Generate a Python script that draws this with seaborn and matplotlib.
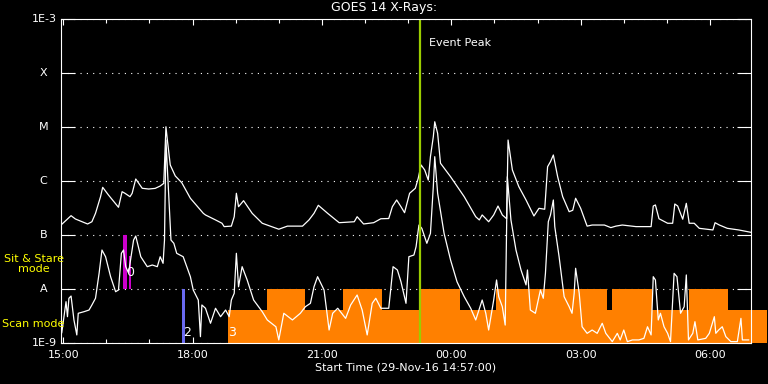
import matplotlib
matplotlib.use("Agg")
import matplotlib.pyplot as plt
import matplotlib.dates as mdates
import matplotlib.ticker as mticker
import pandas as pd
import seaborn as sns

# ---------------- data ----------------
title = "GOES 14 X-Rays:"
xlabel = "Start Time (29-Nov-16 14:57:00)"
x_start = "14:57"
x_end = "06:57"

long_times = ["14:57", "15:11", "15:17", "15:34", "15:40", "15:45", "15:52", "15:55", "16:03", "16:17",
              "16:22", "16:26", "16:33", "16:36", "16:41", "16:50", "16:59", "17:08", "17:15", "17:20",
              "17:23", "17:25", "17:29", "17:36", "17:45", "17:57", "18:15", "18:18", "18:32", "18:41",
              "18:44", "18:54", "18:58", "19:01", "19:04", "19:11", "19:23", "19:37", "20:00", "20:12",
              "20:33", "20:42", "20:49", "20:55", "21:08", "21:24", "21:45", "21:49", "21:58", "22:12",
              "22:22", "22:33", "22:38", "22:44", "22:50", "22:55", "23:02", "23:10", "23:14", "23:18",
              "23:23", "23:28", "23:31", "23:35", "23:37", "23:41", "23:45", "23:59", "00:18", "00:34",
              "00:39", "00:43", "00:52", "00:59", "01:05", "01:11", "01:17", "01:19", "01:25", "01:34",
              "01:44", "01:55", "02:02", "02:10", "02:14", "02:18", "02:22", "02:28", "02:35", "02:44",
              "02:49", "02:53", "03:00", "03:09", "03:16", "03:33", "03:42", "03:49", "03:58", "04:17",
              "04:38", "04:41", "04:44", "04:49", "05:01", "05:08", "05:11", "05:15", "05:22", "05:27",
              "05:31", "05:38", "05:45", "06:04", "06:07", "06:13", "06:24", "06:40", "06:57"]
long_flux = [1.53e-7, 2.28e-7, 1.98e-7, 1.60e-7, 1.76e-7, 2.52e-7, 5.12e-7, 7.64e-7, 5.51e-7, 3.26e-7,
             6.34e-7, 5.92e-7, 5.12e-7, 5.92e-7, 1.09e-6, 7.33e-7, 7.10e-7, 7.30e-7, 8.07e-7, 9.06e-7,
             1.01e-5, 5.74e-6, 1.98e-6, 1.24e-6, 9.31e-7, 4.79e-7, 2.52e-7, 2.35e-7, 1.90e-7, 1.65e-7,
             1.43e-7, 1.46e-7, 2.18e-7, 5.92e-7, 3.34e-7, 4.32e-7, 2.52e-7, 1.65e-7, 1.28e-7, 1.46e-7,
             1.46e-7, 1.90e-7, 2.52e-7, 3.55e-7, 2.52e-7, 1.69e-7, 1.76e-7, 2.18e-7, 1.60e-7, 1.69e-7,
             2.00e-7, 2.02e-7, 3.34e-7, 4.45e-7, 3.34e-7, 2.59e-7, 5.92e-7, 7.33e-7, 1.12e-6, 1.98e-6,
             1.60e-6, 1.04e-6, 2.82e-6, 6.61e-6, 1.25e-5, 7.64e-6, 2.13e-6, 1.20e-6, 5.12e-7, 2.18e-7,
             1.90e-7, 2.35e-7, 1.76e-7, 2.35e-7, 3.44e-7, 2.35e-7, 2.00e-7, 5.74e-6, 1.60e-6, 7.84e-7,
             4.45e-7, 2.25e-7, 3.12e-7, 3.00e-7, 1.84e-6, 2.28e-6, 3.03e-6, 1.20e-6, 5.12e-7, 2.70e-7,
             2.87e-7, 4.79e-7, 3.12e-7, 1.46e-7, 1.53e-7, 1.53e-7, 1.37e-7, 1.46e-7, 1.53e-7, 1.43e-7,
             1.43e-7, 3.44e-7, 3.60e-7, 2.00e-7, 1.65e-7, 1.65e-7, 3.75e-7, 3.44e-7, 1.96e-7, 3.86e-7,
             1.65e-7, 1.65e-7, 1.33e-7, 1.24e-7, 1.69e-7, 1.53e-7, 1.33e-7, 1.24e-7, 1.12e-7]

short_times = ["14:58", "15:04", "15:06", "15:08", "15:11", "15:15", "15:19", "15:21", "15:29", "15:36",
               "15:40", "15:45", "15:50", "15:54", "15:59", "16:06", "16:13", "16:17", "16:21", "16:24",
               "16:27", "16:31", "16:38", "16:41", "16:48", "16:57", "17:04", "17:11", "17:15", "17:19",
               "17:21", "17:23", "17:25", "17:30", "17:34", "17:38", "17:47", "17:57", "18:01", "18:08",
               "18:11", "18:13", "18:18", "18:25", "18:32", "18:39", "18:46", "18:51", "18:54", "18:58",
               "19:01", "19:04", "19:09", "19:16", "19:25", "19:37", "19:44", "19:56", "20:00", "20:07",
               "20:19", "20:30", "20:37", "20:44", "20:49", "20:54", "21:03", "21:10", "21:15", "21:22",
               "21:33", "21:40", "21:49", "21:56", "22:03", "22:10", "22:15", "22:22", "22:33", "22:39",
               "22:45", "22:50", "22:57", "23:01", "23:08", "23:11", "23:15", "23:19", "23:26", "23:31",
               "23:35", "23:37", "23:41", "23:50", "23:59", "00:08", "00:18", "00:27", "00:34", "00:43",
               "00:48", "00:52", "00:59", "01:03", "01:06", "01:11", "01:15", "01:18", "01:23", "01:30",
               "01:37", "01:44", "01:46", "01:50", "01:57", "02:04", "02:08", "02:11", "02:15", "02:18",
               "02:22", "02:24", "02:30", "02:37", "02:44", "02:48", "02:51", "02:53", "02:58", "03:02",
               "03:09", "03:16", "03:23", "03:30", "03:35", "03:42", "03:44", "03:51", "03:55", "04:00",
               "04:05", "04:12", "04:21", "04:28", "04:33", "04:38", "04:41", "04:44", "04:48", "04:51",
               "04:56", "05:01", "05:05", "05:10", "05:14", "05:19", "05:24", "05:27", "05:30", "05:36",
               "05:39", "05:43", "05:54", "05:59", "06:06", "06:08", "06:12", "06:17", "06:22", "06:29",
               "06:38", "06:43", "06:45", "06:54"]
short_flux = [1.53e-9, 5.82e-9, 3.07e-9, 6.73e-9, 7.41e-9, 2.67e-9, 1.41e-9, 3.55e-9, 3.80e-9, 4.08e-9,
              5.06e-9, 6.73e-9, 1.95e-8, 5.27e-8, 3.96e-8, 1.69e-8, 8.91e-9, 9.60e-9, 4.58e-8, 5.27e-8,
              2.59e-8, 1.98e-8, 8.07e-8, 9.58e-8, 3.96e-8, 2.59e-8, 2.78e-8, 2.59e-8, 3.96e-8, 2.99e-8,
              8.07e-8, 5.74e-6, 1.74e-6, 8.07e-8, 7.02e-8, 4.58e-8, 3.96e-8, 1.69e-8, 9.58e-9, 6.25e-9,
              1.31e-9, 5.06e-9, 4.40e-9, 2.32e-9, 4.40e-9, 3.07e-9, 4.08e-9, 3.07e-9, 6.25e-9, 8.32e-9,
              4.58e-8, 1.10e-8, 2.59e-8, 1.47e-8, 6.25e-9, 3.80e-9, 2.67e-9, 2.00e-9, 1.14e-9, 3.55e-9,
              2.67e-9, 3.55e-9, 4.70e-9, 5.43e-9, 1.10e-8, 1.69e-8, 9.58e-9, 1.74e-9, 3.55e-9, 4.40e-9,
              2.86e-9, 5.06e-9, 7.74e-9, 4.08e-9, 1.41e-9, 5.43e-9, 6.73e-9, 4.40e-9, 4.40e-9, 2.59e-8,
              2.25e-8, 1.36e-8, 5.43e-9, 3.96e-8, 4.26e-8, 6.07e-8, 1.53e-7, 1.33e-7, 7.02e-8, 1.07e-7,
              7.84e-7, 2.82e-6, 5.92e-7, 1.07e-7, 3.44e-8, 1.36e-8, 7.20e-9, 4.40e-9, 2.67e-9, 6.25e-9,
              3.55e-9, 1.74e-9, 6.25e-9, 1.47e-8, 7.20e-9, 4.70e-9, 2.15e-9, 1.20e-6, 1.90e-7, 5.27e-8,
              2.25e-8, 1.19e-8, 2.25e-8, 4.08e-9, 3.55e-9, 9.58e-9, 6.73e-9, 1.95e-8, 1.76e-7, 2.35e-7,
              4.45e-7, 1.43e-7, 3.96e-8, 7.20e-9, 4.70e-9, 3.55e-9, 8.32e-9, 2.42e-8, 8.32e-9, 2.00e-9,
              1.51e-9, 1.74e-9, 1.51e-9, 2.32e-9, 1.51e-9, 1.14e-9, 1.06e-9, 1.51e-9, 1.14e-9, 1.74e-9,
              1.06e-9, 1.14e-9, 1.14e-9, 1.22e-9, 2.00e-9, 1.41e-9, 1.69e-8, 1.47e-8, 2.67e-9, 3.55e-9,
              2.00e-9, 1.51e-9, 1.06e-9, 1.95e-8, 1.69e-8, 3.55e-9, 4.70e-9, 1.82e-8, 1.14e-9, 1.51e-9,
              2.48e-9, 1.14e-9, 1.22e-9, 1.51e-9, 3.07e-9, 1.51e-9, 1.74e-9, 2.00e-9, 1.31e-9, 1.06e-9,
              1.06e-9, 2.86e-9, 1.14e-9, 1.14e-9]

# Scan mode (orange): low band and taller blocks
scan_low_start = "18:49"
scan_low_end = "07:19"
scan_low_top = 4.1e-9
scan_high_starts = ["19:43", "21:30", "23:16", "01:02", "03:43", "05:31"]
scan_high_ends = ["20:37", "22:24", "00:12", "03:36", "04:39", "06:25"]
scan_high_top = 1.0e-8
scan_bottom = 1.0e-9

# Sit & stare (magenta)
sit_starts = ["16:23", "16:31"]
sit_ends = ["16:29", "16:35"]
sit_tops = [1.0e-7, 4.1e-8]
sit_bottom = 1.0e-8

# other observation (blue)
obs2_start = "17:45"
obs2_end = "17:50"
obs2_bottom = 1.0e-9
obs2_top = 1.0e-8

event_peak = "23:16"

ytick_vals = [1e-9, 1e-8, 1e-7, 1e-6, 1e-5, 1e-4, 1e-3]
ytick_labels = ["1E-9", "A", "B", "C", "M", "X", "1E-3"]

# colours
ORANGE = "#FF8000"
MAGENTA = "#CC00CC"
BLUE = "#6A6AF0"
GREEN = "#9ACD00"
YELLOW = "#FFFF00"


def to_dt(s):
    h, m = map(int, s.split(":"))
    day = 29 if h >= 14 else 30
    return pd.Timestamp(2016, 11, day, h, m)


def num(s):
    return mdates.date2num(to_dt(s))


# ---------------- style ----------------
sns.set_theme(style="dark")
plt.rcParams.update({
    "font.family": ["DejaVu Sans"],
    "figure.facecolor": "black",
    "axes.facecolor": "black",
    "savefig.facecolor": "black",
    "text.color": "white",
    "axes.edgecolor": "white",
    "xtick.color": "white",
    "ytick.color": "white",
})

W, H = 768, 384
fig = plt.figure(figsize=(W / 100, H / 100), dpi=100)
ax = fig.add_axes([61 / W, 1 - 343 / H, (751 - 61) / W, (343 - 19) / H])
ax.set_facecolor("black")

long_df = pd.DataFrame({"time": [to_dt(t) for t in long_times], "flux": long_flux})
short_df = pd.DataFrame({"time": [to_dt(t) for t in short_times], "flux": short_flux})

# orange scan-mode bars
x0 = num(scan_low_start)
ax.bar(x0, scan_low_top - scan_bottom, width=num(scan_low_end) - x0, bottom=scan_bottom,
       align="edge", color=ORANGE, linewidth=0, zorder=2, clip_on=False)
for s, e in zip(scan_high_starts, scan_high_ends):
    ax.bar(num(s), scan_high_top - scan_bottom, width=num(e) - num(s), bottom=scan_bottom,
           align="edge", color=ORANGE, linewidth=0, zorder=2)

# sit & stare bars
for s, e, top in zip(sit_starts, sit_ends, sit_tops):
    ax.bar(num(s), top - sit_bottom, width=num(e) - num(s), bottom=sit_bottom,
           align="edge", color=MAGENTA, linewidth=0, zorder=2)

# blue bar
ax.bar(num(obs2_start), obs2_top - obs2_bottom, width=num(obs2_end) - num(obs2_start),
       bottom=obs2_bottom, align="edge", color=BLUE, linewidth=0, zorder=2)

# curves
sns.lineplot(data=long_df, x="time", y="flux", ax=ax, color="white", lw=0.9,
             estimator=None, sort=False, zorder=3)
sns.lineplot(data=short_df, x="time", y="flux", ax=ax, color="white", lw=0.9,
             estimator=None, sort=False, zorder=3)

# event peak line
ax.axvline(num(event_peak), color=GREEN, lw=1.6, zorder=4)
ax.annotate("Event Peak", xy=(num(event_peak), 1), xycoords=("data", "axes fraction"),
            xytext=(7, -17), textcoords="offset points", color="white", fontsize=8,
            ha="left", va="center")

# labels on bars
ax.annotate("0", xy=(num(sit_starts[1]), sit_bottom), xytext=(1, 7), textcoords="offset points",
            color="white", fontsize=9, ha="center", va="bottom", zorder=5)
ax.annotate("2", xy=(num(obs2_start), scan_bottom), xytext=(1, 3), textcoords="offset points",
            color="white", fontsize=9, ha="left", va="bottom", zorder=5)
ax.annotate("3", xy=(num(scan_low_start), scan_bottom), xytext=(0, 3), textcoords="offset points",
            color="white", fontsize=9, ha="left", va="bottom", zorder=5)

# axes
ax.set_yscale("log")
ax.set_ylim(ytick_vals[0], ytick_vals[-1])
ax.set_xlim(num(x_start), num(x_end))
ax.set_yticks(ytick_vals)
ax.yaxis.set_minor_locator(mticker.NullLocator())
ax.set_yticklabels([])
ytr = ax.get_yaxis_transform()
for v, lab in zip(ytick_vals, ytick_labels):
    if lab.startswith("1E"):
        ax.text(-0.006, v, lab, transform=ytr, ha="right", va="center", fontsize=8, color="white")
    else:
        ax.text(-0.025, v, lab, transform=ytr, ha="center", va="center", fontsize=8, color="white")

ax.xaxis.set_major_locator(mdates.HourLocator(byhour=range(0, 24, 3)))
ax.xaxis.set_minor_locator(mdates.HourLocator())
ax.xaxis.set_major_formatter(mdates.DateFormatter("%H:%M"))
ax.tick_params(axis="x", which="major", direction="in", length=4.3, width=0.8,
               top=True, bottom=True, labelsize=8, pad=5, colors="white")
ax.tick_params(axis="x", which="minor", direction="in", length=2.8, width=0.8,
               top=True, bottom=True, colors="white")
ax.tick_params(axis="y", which="major", direction="in", length=10, width=0.8,
               left=True, right=True, colors="white")

ax.grid(False)
ax.yaxis.grid(True, which="major", color="white", linestyle=(0, (1, 4.7)), lw=0.8)
ax.set_axisbelow(True)
for sp in ax.spines.values():
    sp.set_color("white")
    sp.set_linewidth(0.8)
    sp.set_zorder(6)

ax.set_xlabel("")
ax.set_ylabel("")

fig.text(384 / W, 1 - 8 / H, title, ha="center", va="center", fontsize=9, color="white")
fig.text(406 / W, 1 - 367 / H, xlabel, ha="center", va="center", fontsize=8, color="white")
fig.text(34 / W, 1 - 264 / H, "Sit & Stare\nmode", ha="center", va="center", fontsize=8,
         color=YELLOW, linespacing=1.0)
fig.text(2 / W, 1 - 324 / H, "Scan mode", ha="left", va="center", fontsize=8, color=YELLOW)

fig.savefig("out.png", dpi=100, facecolor="black")
